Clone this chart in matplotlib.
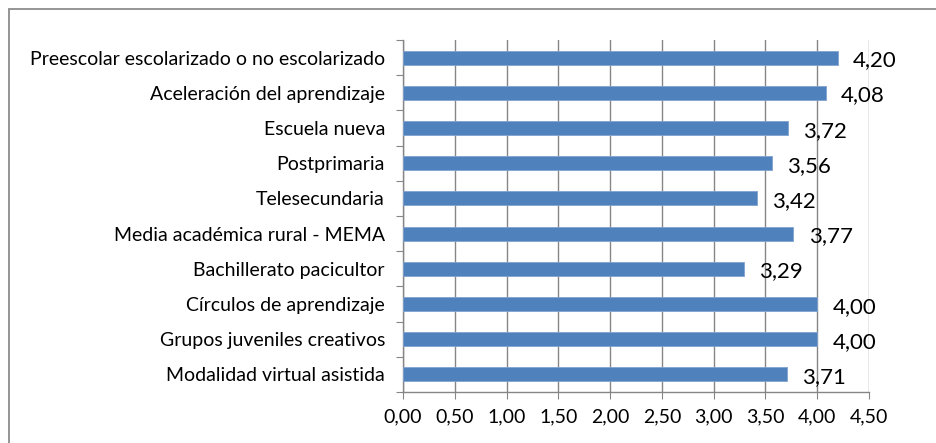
import matplotlib.pyplot as plt
from matplotlib.patches import Rectangle

categories = [
    "Preescolar escolarizado o no escolarizado",
    "Aceleración del aprendizaje",
    "Escuela nueva",
    "Postprimaria",
    "Telesecundaria",
    "Media académica rural - MEMA",
    "Bachillerato pacicultor",
    "Círculos de aprendizaje",
    "Grupos juveniles creativos",
    "Modalidad virtual asistida",
]
values = [4.20, 4.08, 3.72, 3.56, 3.42, 3.77, 3.29, 4.00, 4.00, 3.71]
xticks = [0.0, 0.5, 1.0, 1.5, 2.0, 2.5, 3.0, 3.5, 4.0, 4.5]

plt.rcParams['font.family'] = ['Lato', 'DejaVu Sans']

W, H = 936, 443
fig = plt.figure(figsize=(W / 100, H / 100), dpi=100)
ax = fig.add_axes([403 / W, (H - 392) / H, (869 - 403) / W, (392 - 40) / H])

grey = '#868686'
n = len(categories)
ypos = list(range(n))[::-1]

ax.barh(ypos, values, height=0.4, color='#4F81BD', edgecolor='#7FA3D0', linewidth=0.6, zorder=3)

for y, v in zip(ypos, values):
    ax.annotate(f"{v:.2f}".replace('.', ','), (v, y), xytext=(11, -2), textcoords='offset points',
                va='center', ha='left', fontsize=16, zorder=4)

ax.set_xlim(0, 4.5)
ax.set_ylim(-0.5, n - 0.5)
ax.set_xticks(xticks)
ax.set_xticklabels([f"{t:.2f}".replace('.', ',') for t in xticks], fontsize=14)
ax.xaxis.grid(True, color=grey, linewidth=1, zorder=0)

ax.set_yticks([i - 0.5 for i in range(n + 1)])
ax.set_yticklabels([])
ax.set_yticks(ypos, minor=True)
ax.set_yticklabels(categories, minor=True, fontsize=14)
ax.tick_params(axis='y', which='minor', length=0, pad=13)
ax.tick_params(axis='y', which='major', length=5, color=grey, direction='out')
ax.tick_params(axis='x', length=5, color=grey, direction='out', pad=7)

for s in ['top', 'right']:
    ax.spines[s].set_visible(False)
for s in ['left', 'bottom']:
    ax.spines[s].set_color(grey)
    ax.spines[s].set_linewidth(1)

fig.patches.append(Rectangle((9 / W, -0.1), 1.0, (H - 9) / H + 0.1, transform=fig.transFigure,
                             fill=False, edgecolor='#8c8c8c', linewidth=1.3))

fig.savefig("out.png", dpi=100)
